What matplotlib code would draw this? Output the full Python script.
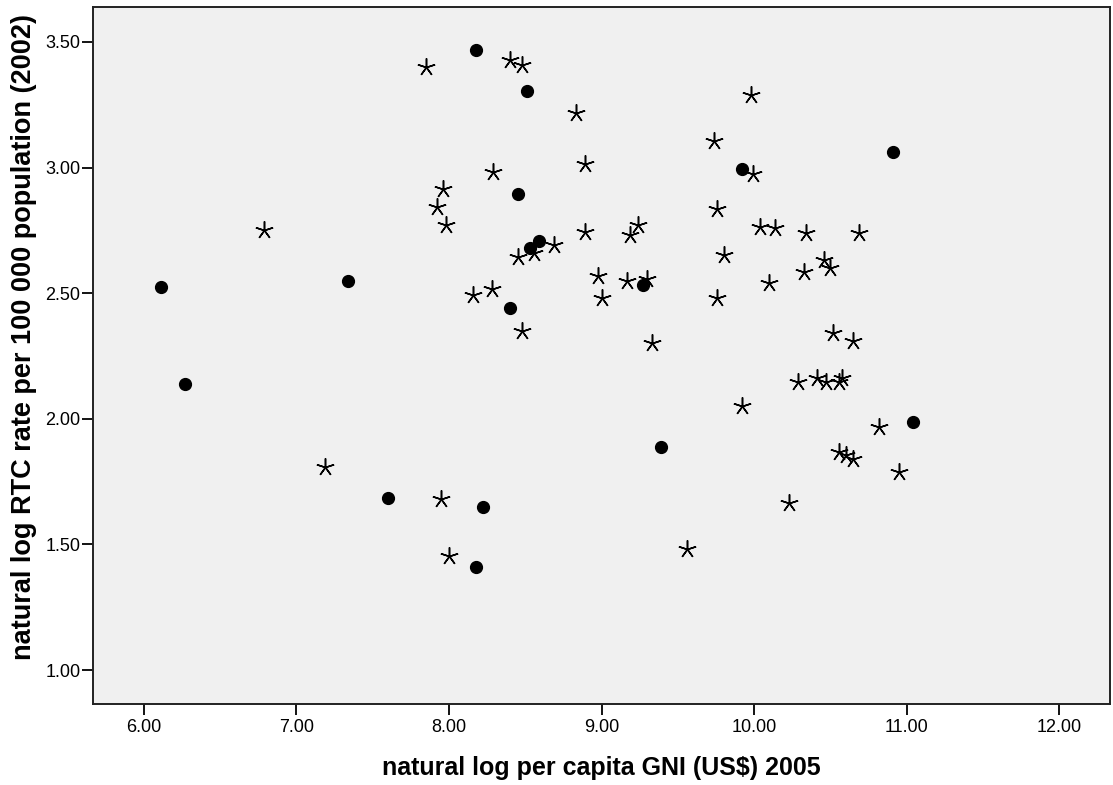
import matplotlib.pyplot as plt
from matplotlib import font_manager

# ── data ───────────────────────────────────────────────────────────
circle_x = [8.18, 8.51, 8.45, 9.92, 10.91, 8.59, 8.53, 9.27, 8.40, 6.11,
            7.34, 6.27, 7.60, 8.22, 8.18, 9.39, 11.04]
circle_y = [3.467, 3.306, 2.895, 2.994, 3.061, 2.708, 2.680, 2.533, 2.441, 2.525,
            2.547, 2.139, 1.686, 1.649, 1.409, 1.887, 1.986]

star_x = [7.85, 7.96, 7.92, 7.98, 6.79, 8.16, 8.29, 8.28,
          8.40, 8.48, 9.98, 8.83, 9.74, 8.89, 9.99, 9.76, 10.04, 10.14,
          10.34, 10.69, 8.89, 9.24, 9.19, 8.69, 8.56, 8.45, 9.80, 10.46,
          10.50, 10.33, 10.10, 8.98, 9.17, 9.30, 9.00, 9.76, 8.48, 9.33,
          10.52, 10.65,
          10.29, 10.41, 10.47, 10.56, 10.58, 9.92, 10.82, 10.56, 10.60,
          10.65, 10.23, 9.56, 10.95,
          7.19, 7.95, 8.00]
star_y = [3.402, 2.914, 2.842, 2.770, 2.752, 2.492, 2.982, 2.515,
          3.428, 3.408, 3.289, 3.216, 3.106, 3.014, 2.973, 2.835, 2.762, 2.758,
          2.738, 2.738, 2.745, 2.770, 2.732, 2.692, 2.661, 2.643, 2.651, 2.632,
          2.601, 2.586, 2.539, 2.570, 2.549, 2.555, 2.482, 2.482, 2.350, 2.300,
          2.343, 2.310,
          2.148, 2.161, 2.148, 2.148, 2.161, 2.052, 1.969, 1.869, 1.856,
          1.839, 1.666, 1.480, 1.787,
          1.807, 1.682, 1.455]

x_ticks = [6, 7, 8, 9, 10, 11, 12]
y_ticks = [1.0, 1.5, 2.0, 2.5, 3.0, 3.5]

installed = {f.name for f in font_manager.fontManager.ttflist}
fam = 'Liberation Sans Narrow' if 'Liberation Sans Narrow' in installed else 'Liberation Sans'
plt.rcParams['font.family'] = [fam, 'DejaVu Sans']

fig = plt.figure(figsize=(11.13, 7.85), dpi=100)
ax = fig.add_axes([0.0836, 0.1032, 0.9137, 0.8879])
ax.set_facecolor('#f0f0f0')

ax.plot(star_x, star_y, linestyle='none', marker=(5, 2, 0), markersize=13,
        markeredgewidth=1.1, color='black')
ax.plot(circle_x, circle_y, linestyle='none', marker='o', markersize=8.5,
        color='black')

ax.set_xlim(5.666, 12.334)
ax.set_ylim(0.865, 3.639)
ax.set_xticks(x_ticks)
ax.set_xticklabels([f"{v:.2f}" for v in x_ticks])
ax.set_yticks(y_ticks)
ax.set_yticklabels([f"{v:.2f}" for v in y_ticks])
ax.tick_params(direction='out', length=8, width=1.3, labelsize=13)
ax.tick_params(axis='y', pad=1)
ax.tick_params(axis='x', pad=3)

for sp in ax.spines.values():
    sp.set_linewidth(1.4)
    sp.set_color('#222222')

ax.set_xlabel("natural log per capita GNI (US$) 2005", fontsize=18,
              fontweight='bold', va='center')
ax.xaxis.set_label_coords(0.5, -0.092)
ax.set_ylabel("natural log RTC rate per 100 000 population (2002)", fontsize=19.5,
              fontweight='bold', va='center')
ax.yaxis.set_label_coords(-0.068, 0.527)

fig.savefig("out.png", dpi=100)
